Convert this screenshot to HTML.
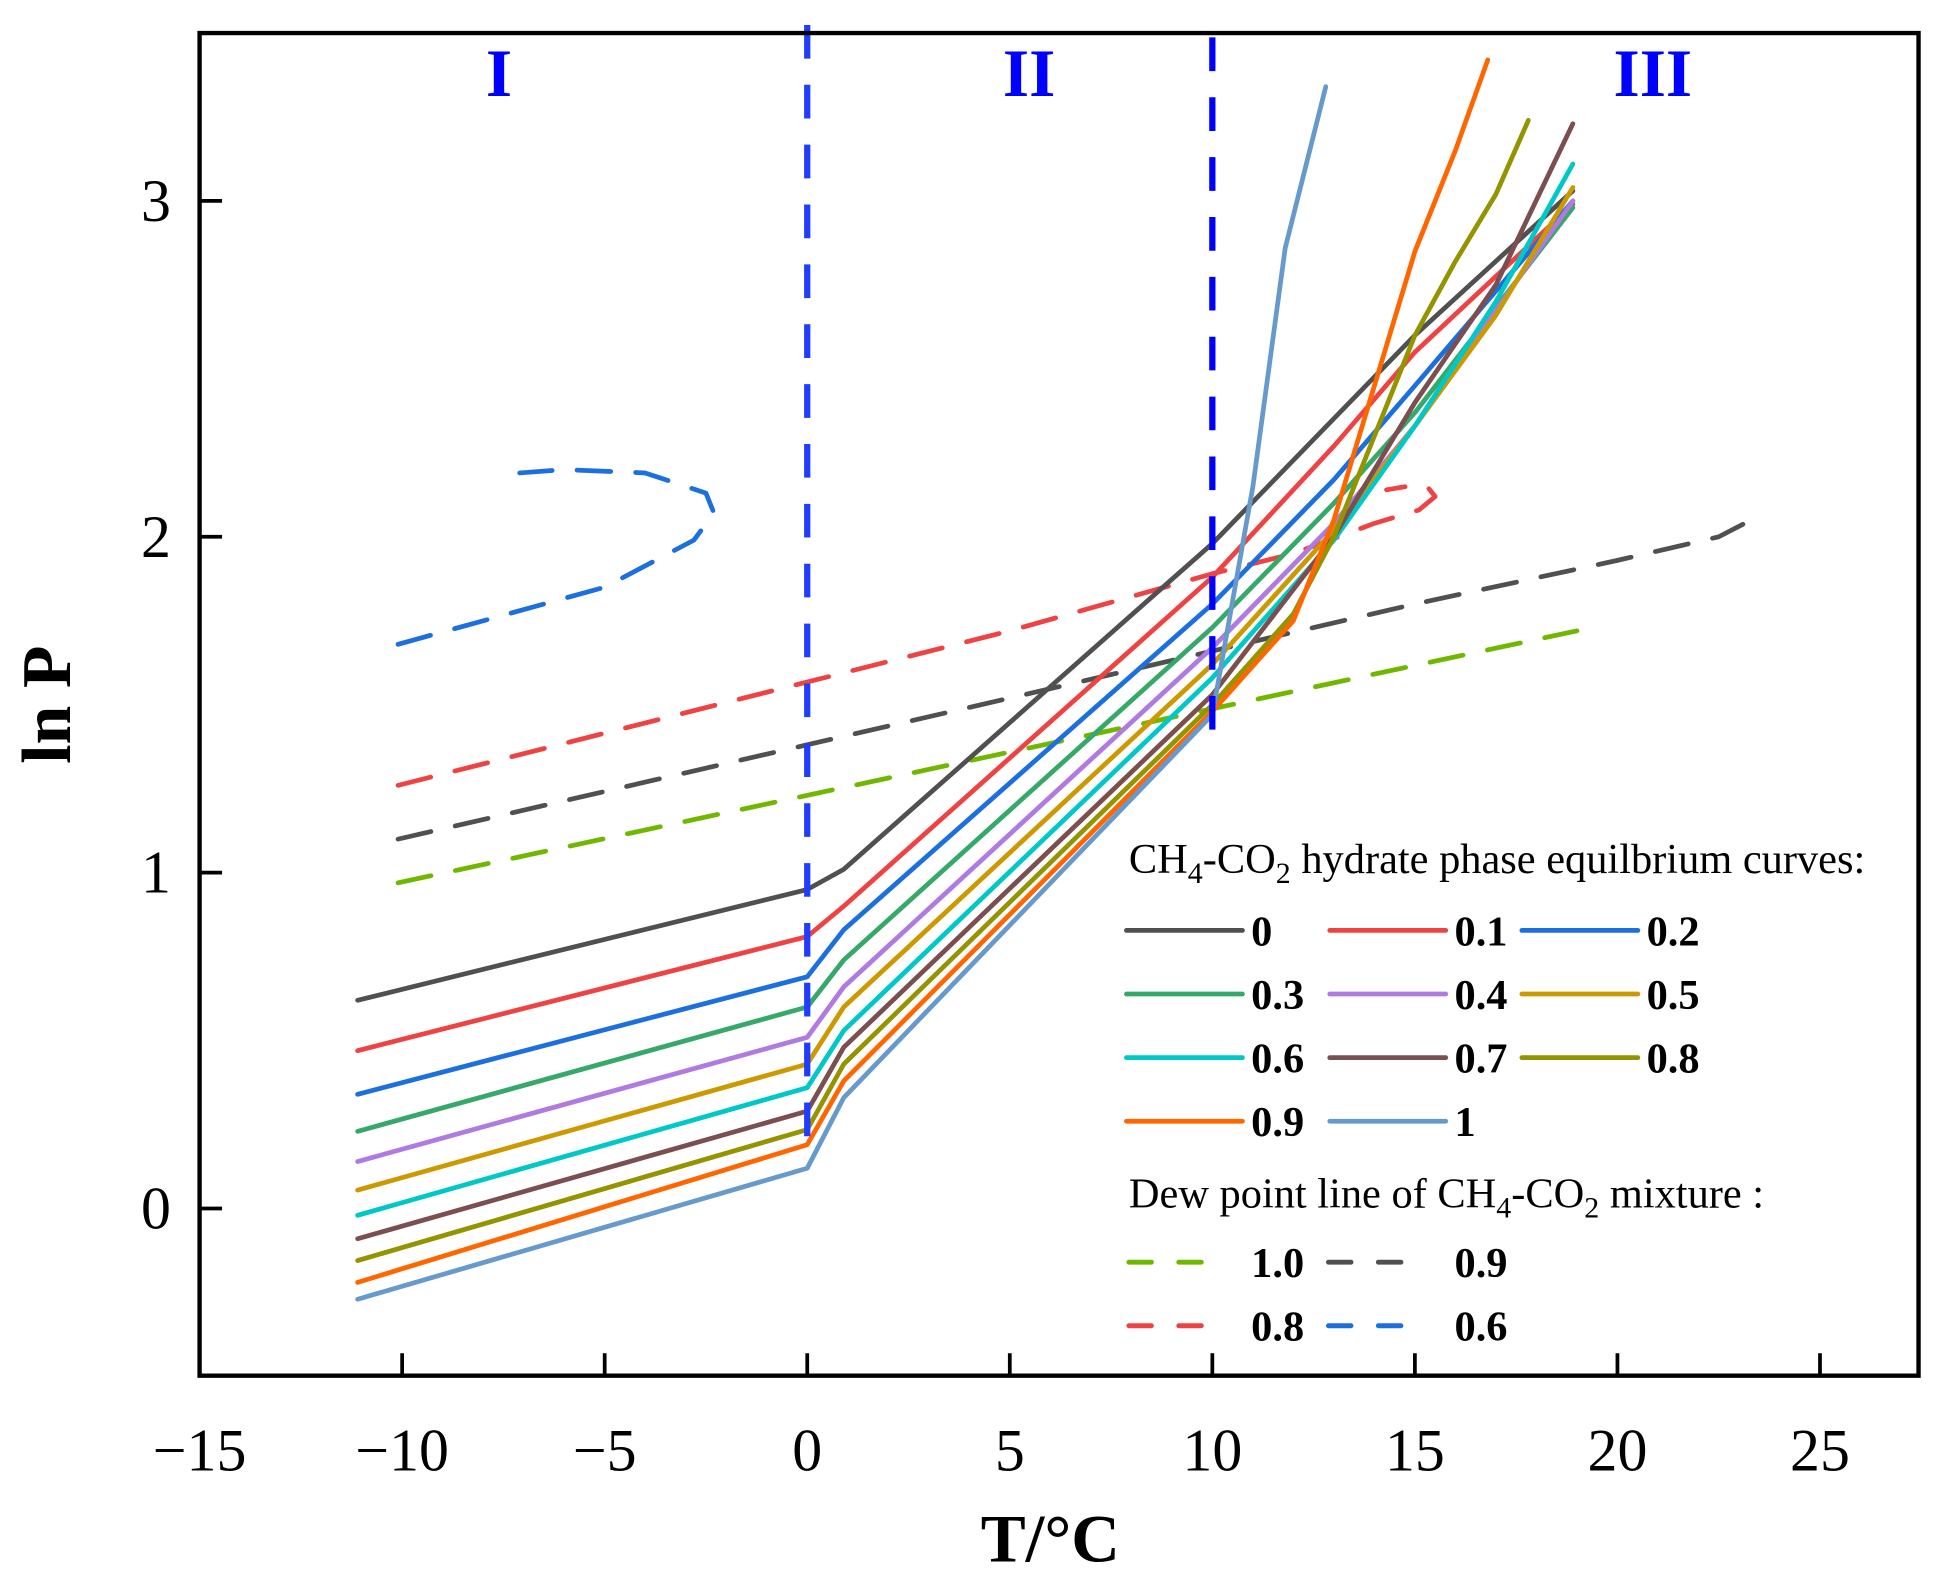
<!DOCTYPE html>
<html><head><meta charset="utf-8"><style>
html,body{margin:0;padding:0;background:#fff;}
svg{display:block;}
text{font-family:"Liberation Serif","DejaVu Serif",serif;}
</style></head><body>
<svg id="chart" width="1936" height="1569" viewBox="0 0 1552 1258" preserveAspectRatio="none" xmlns="http://www.w3.org/2000/svg">
<g id="plot"></g>
<g id="axes"></g>
<g id="legend"></g>
</svg>
<script>
// ---- data ----
const xTicks = [-15,-10,-5,0,5,10,15,20,25];
const yTicks = [0,1,2,3];
const hydrateNames = ['0','0.1','0.2','0.3','0.4','0.5','0.6','0.7','0.8','0.9','1'];
const hydrateColors = ['#505050','#ef4343','#1c6fdf','#36a96a','#b07be0','#cc9900','#00c8c8','#7b4f4f','#949400','#ff6600','#6699cc'];
const h0T = [-11.1,0,0.9,10,15,18.9];   const h0V = [0.62,0.95,1.01,1.98,2.6,3.03];
const h1T = [-11.1,0,0.9,10,13,15,18.9]; const h1V = [0.47,0.81,0.9,1.88,2.27,2.55,2.99];
const h2T = [-11.1,0,0.9,10,13,15,18.9]; const h2V = [0.34,0.69,0.83,1.8,2.17,2.45,3.0];
const h3T = [-11.1,0,0.9,10,13,15,18.9]; const h3V = [0.23,0.6,0.74,1.73,2.1,2.37,2.98];
const h4T = [-11.1,0,0.9,10,13,15,18.9]; const h4V = [0.14,0.51,0.66,1.67,2.04,2.33,3.0];
const h5T = [-11.1,0,0.9,10,13,15,17,18.9]; const h5V = [0.055,0.43,0.6,1.62,2.02,2.33,2.66,3.04];
const h6T = [-11.1,0,0.9,10,13,15,17,18.9]; const h6V = [-0.02,0.36,0.53,1.58,1.99,2.33,2.7,3.11];
const h7T = [-11.1,0,0.9,10,13,15,17,18.9]; const h7V = [-0.09,0.29,0.48,1.53,2.0,2.4,2.75,3.23];
const h8T = [-11.1,0,0.9,10,12,13,14,15,16,17,17.8]; const h8V = [-0.155,0.235,0.43,1.5,1.77,2.0,2.3,2.6,2.82,3.02,3.24];
const h9T = [-11.1,0,0.9,10,12,13,14,15,16,16.8]; const h9V = [-0.22,0.19,0.38,1.48,1.75,2.05,2.45,2.85,3.15,3.42];
const h10T = [-11.1,0,0.9,10,11,11.8,12.8]; const h10V = [-0.27,0.12,0.33,1.47,2.15,2.86,3.34];
const hydrateT = [h0T,h1T,h2T,h3T,h4T,h5T,h6T,h7T,h8T,h9T,h10T];
const hydrateV = [h0V,h1V,h2V,h3V,h4V,h5V,h6V,h7V,h8V,h9V,h10V];

const dewNames = ['1.0','0.9','0.8','0.6'];
const dewColors = ['#70b800','#505050','#ef4343','#1c6fdf'];
const d10T = [-10.1,19];  const d10V = [0.97,1.72];
const d09T = [-10.1,5,15,20,22.5,23.3]; const d09V = [1.1,1.52,1.8,1.93,2.0,2.05];
const d08T = [-10.1,5,10,12,14,15.1,15.5,15.3,14.8,14.3]; const d08V = [1.26,1.72,1.89,1.95,2.04,2.08,2.12,2.15,2.15,2.14];
const d06T = [-10.1,-5,-2.8,-2.3,-2.5,-4,-6,-7.1]; const d06V = [1.68,1.85,1.99,2.07,2.13,2.19,2.2,2.19];
const dewT = [d10T,d09T,d08T,d06T];
const dewV = [d10V,d09V,d08V,d06V];
const regionBounds = [0,10];
const regionBottom = [0.14,1.42];

// ---- axes mapping ----
const X0=160, X1=1538, Y0=26.5, Y1=1103;
function sx(t){ return 160 + (t+15)*32.475; }
function sy(v){ return 969 - v*269.3; }
const NS='http://www.w3.org/2000/svg';
function mk(tag, attrs, parent){ const e=document.createElementNS(NS,tag); for(const k in attrs) e.setAttribute(k,attrs[k]); parent.appendChild(e); return e; }
const plot=document.getElementById('plot'), axes=document.getElementById('axes'), legend=document.getElementById('legend');
function pts(T,V){ return T.map((t,i)=>sx(t).toFixed(1)+','+sy(V[i]).toFixed(1)).join(' '); }

// dew lines
dewT.forEach((T,i)=>{
  const p=mk('polyline',{points:pts(T,dewV[i]),fill:'none',stroke:dewColors[i],'stroke-width':3.8,'stroke-dasharray':'27 20','stroke-linecap':'round','stroke-linejoin':'round'},plot);
  
  
});
// hydrate curves
hydrateT.forEach((T,i)=>{
  const p=mk('polyline',{points:pts(T,hydrateV[i]),fill:'none',stroke:hydrateColors[i],'stroke-width':3.8,'stroke-linejoin':'round','stroke-linecap':'round'},plot);
  
  
});
// region boundaries
regionBounds.forEach((b,i)=>{
  const l=mk('line',{x1:sx(b),x2:sx(b),y1:i==0?20:30,y2:sy(regionBottom[i]),stroke:i==0?'#1f3cff':'#0000ff','stroke-width':5,'stroke-dasharray':'27 21'},plot);
  
  
});
[['I',400],['II',825],['III',1325]].forEach(r=>{
  const t=mk('text',{x:r[1],y:77,'text-anchor':'middle','font-size':54,'font-weight':'bold',fill:'#0000ff'},plot);
  t.textContent=r[0];
  
  
});

// frame
const fr=mk('rect',{x:X0,y:Y0,width:X1-X0,height:Y1-Y0,fill:'none',stroke:'#000','stroke-width':3.5},axes);


xTicks.forEach(t=>{
  const l=mk('line',{x1:sx(t),x2:sx(t),y1:Y1,y2:Y1-18,stroke:'#000','stroke-width':3},axes);
  
  
  const tx=mk('text',{x:sx(t),y:1179,'text-anchor':'middle','font-size':48},axes);
  tx.textContent=(t<0?'\u2212':'')+Math.abs(t);
  
  
});
yTicks.forEach(v=>{
  const l=mk('line',{x1:X0,x2:X0+18,y1:sy(v),y2:sy(v),stroke:'#000','stroke-width':3},axes);
  
  
  const tx=mk('text',{x:137,y:sy(v)+16,'text-anchor':'end','font-size':48},axes);
  tx.textContent=String(v);
  
  
});
const xt=mk('text',{x:842,y:1252,'text-anchor':'middle','font-size':54,'font-weight':'bold'},axes);
xt.textContent='T/\u00B0C';


const yt=mk('text',{x:0,y:0,'text-anchor':'middle','font-size':56,'font-weight':'bold',transform:'translate(56,565) rotate(-90)'},axes);
yt.textContent='ln P';



// legend
function title(y,html,name){
  const t=mk('text',{x:905,y:y,'font-size':34},legend);
  t.innerHTML=html;
  
  
}
title(700,'CH<tspan font-size="24" dy="8">4</tspan><tspan dy="-8">-CO</tspan><tspan font-size="24" dy="8">2</tspan><tspan dy="-8"> hydrate phase equilbrium curves:</tspan>','legend-title-hydrate');
const hx=[[903,1003],[1066,1166],[1220,1320]], hy=[746,797,848,899];
hydrateNames.forEach((n,i)=>{
  const c=hx[i%3], y=hy[Math.floor(i/3)];
  const l=mk('line',{x1:c[0],x2:c[0]+93,y1:y,y2:y,stroke:hydrateColors[i],'stroke-width':3.8,'stroke-linecap':'round'},legend);
  
  
  const t=mk('text',{x:c[1],y:y+12,'font-size':34,'font-weight':'bold'},legend);
  t.textContent=n;
  
  
});
title(968,'Dew point line of CH<tspan font-size="24" dy="8">4</tspan><tspan dy="-8">-CO</tspan><tspan font-size="24" dy="8">2</tspan><tspan dy="-8"> mixture :</tspan>','legend-title-dew');
const dx=[[903,1003],[1063,1166]], dy=[1012,1063];
dewNames.forEach((n,i)=>{
  const c=dx[i%2], y=dy[Math.floor(i/2)];
  const l=mk('line',{x1:c[0]+2,x2:c[0]+80,y1:y,y2:y,stroke:dewColors[i],'stroke-width':4,'stroke-dasharray':'18 22','stroke-linecap':'round'},legend);
  
  
  const t=mk('text',{x:c[1],y:y+12,'font-size':34,'font-weight':'bold'},legend);
  t.textContent=n;
  
  
});
</script>
</body></html>
